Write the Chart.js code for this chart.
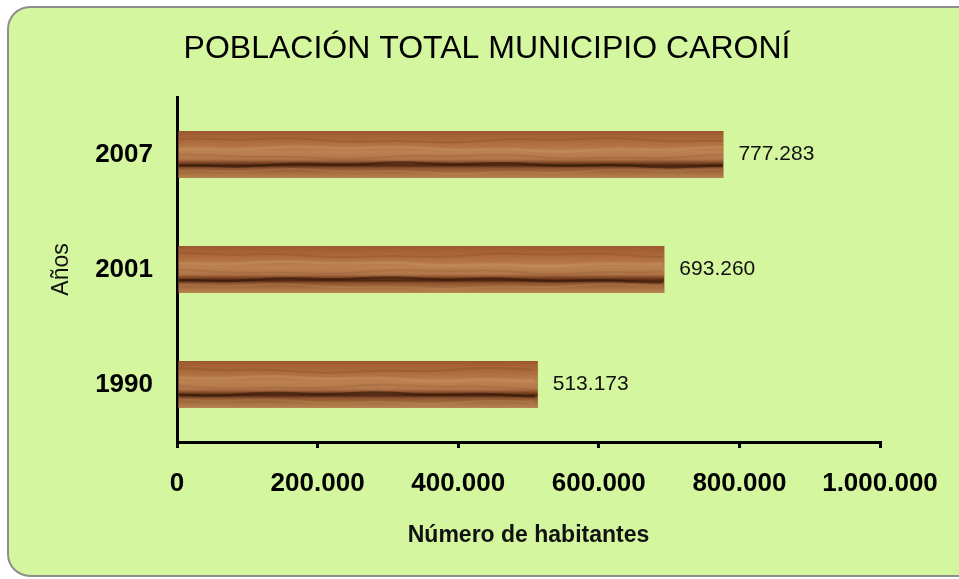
<!DOCTYPE html>
<html>
<head>
<meta charset="utf-8">
<script src="https://cdn.jsdelivr.net/npm/chart.js@4.4.1/dist/chart.umd.min.js"></script>
<style>
  html, body { margin: 0; padding: 0; background: #fff; }
  #wrap { width: 959px; height: 579px; }
</style>
</head>
<body>
<div id="wrap"><canvas id="popChart"></canvas></div>
<script>
// data
const years = ["2007", "2001", "1990"];
const population = [777283, 693260, 513173];
const xTicks = [0, 200000, 400000, 600000, 800000, 1000000];

const chartTitle = "POBLACIÓN TOTAL MUNICIPIO CARONÍ";
const xTitle = "Número de habitantes";
const yTitle = "Años";

function fmtNum(v) {
    return String(v).replace(/\B(?=(\d{3})+(?!\d))/g, ".");
}

// green rounded panel + title
const panelPlugin = {
    id: "panel",
    beforeDraw(chart) {
        const ctx = chart.ctx;
        ctx.save();
        ctx.fillStyle = "#fff";
        ctx.fillRect(0, 0, chart.width, chart.height);
        ctx.beginPath();
        ctx.roundRect(8, 7, 985, 569, 22);
        ctx.fillStyle = "#d3f69f";
        ctx.fill();
        ctx.lineWidth = 2;
        ctx.strokeStyle = "#8d8d8d";
        ctx.stroke();

        ctx.fillStyle = "#000";
        ctx.font = "32px 'Liberation Sans', Arial, sans-serif";
        ctx.textAlign = "center";
        ctx.textBaseline = "alphabetic";
        ctx.fillText(chartTitle, 487, 58);
        ctx.restore();
    }
};

// wood look on the bars + value labels
const woodPlugin = {
    id: "wood",
    afterDatasetsDraw(chart) {
        const ctx = chart.ctx;
        const meta = chart.getDatasetMeta(0);
        meta.data.forEach((bar, i) => {
            const p = bar.getProps(["x", "y", "base", "height"], true);
            const left = Math.min(p.base, p.x), right = Math.max(p.base, p.x);
            const top = p.y - p.height / 2, h = p.height;

            ctx.save();
            ctx.beginPath();
            ctx.rect(left, top, right - left, h);
            ctx.clip();

            const g = ctx.createLinearGradient(0, top, 0, top + h);
            g.addColorStop(0, "#9a5530");
            g.addColorStop(0.08, "#a35f33");
            g.addColorStop(0.25, "#ae6d3d");
            g.addColorStop(0.45, "#bb8150");
            g.addColorStop(0.6, "#b2754a");
            g.addColorStop(0.68, "#7a4220");
            g.addColorStop(0.73, "#4f2611");
            g.addColorStop(0.79, "#8e5530");
            g.addColorStop(0.9, "#a87040");
            g.addColorStop(1, "#b58552");
            ctx.fillStyle = g;
            ctx.fillRect(left, top, right - left, h);

            // grain streaks
            const streaks = [
                {f: 0.2, c: "rgba(140,75,40,0.35)", w: 2, k: 53},
                {f: 0.38, c: "rgba(210,160,110,0.30)", w: 3, k: 71},
                {f: 0.55, c: "rgba(150,90,50,0.30)", w: 2, k: 43},
                {f: 0.72, c: "rgba(50,22,8,0.55)", w: 2.5, k: 89},
                {f: 0.86, c: "rgba(200,150,100,0.25)", w: 2, k: 61}
            ];
            streaks.forEach(s => {
                ctx.beginPath();
                for (let x = left; x <= right; x += 4) {
                    const yy = top + s.f * h + 1.6 * Math.sin((x + i * 37) / s.k) + 0.8 * Math.sin((x + i * 11) / 17);
                    if (x === left) ctx.moveTo(x, yy); else ctx.lineTo(x, yy);
                }
                ctx.strokeStyle = s.c;
                ctx.lineWidth = s.w;
                ctx.stroke();
            });
            ctx.restore();

            ctx.save();
            ctx.fillStyle = "#111";
            ctx.font = "21px 'Liberation Sans', Arial, sans-serif";
            ctx.textAlign = "left";
            ctx.textBaseline = "middle";
            ctx.fillText(fmtNum(population[i]), right + 15, p.y);
            ctx.restore();
        });
    }
};

const setupBlock = {
    labels: years,
    datasets: [{
        data: population,
        backgroundColor: "#a86a3a",
        borderWidth: 0,
        barPercentage: 0.41,
        categoryPercentage: 1.0
    }]
};

const configBlock = {
    type: "bar",
    data: setupBlock,
    options: {
        indexAxis: "y",
        responsive: true,
        maintainAspectRatio: false,
        animation: false,
        layout: {
            padding: { left: 0, right: 79, top: 97, bottom: 0 }
        },
        plugins: {
            legend: { display: false },
            title: { display: false },
            tooltip: { enabled: false }
        },
        scales: {
            x: {
                min: 0,
                max: 1000000,
                afterBuildTicks(scale) {
                    scale.ticks = xTicks.map(v => ({ value: v }));
                },
                afterFit(scale) { scale.height = 137; },
                grid: {
                    drawOnChartArea: false,
                    drawTicks: true,
                    tickLength: 6,
                    color: "#000",
                    lineWidth: 3
                },
                border: { display: true, color: "#000", width: 3 },
                ticks: {
                    padding: 20,
                    color: "#000",
                    maxRotation: 0,
                    font: { family: "'Liberation Sans', Arial, sans-serif", size: 26, weight: "bold" },
                    callback: v => fmtNum(v)
                },
                title: {
                    display: true,
                    text: xTitle,
                    color: "#111",
                    padding: { top: 0, bottom: 30 },
                    font: { family: "'Liberation Sans', Arial, sans-serif", size: 23, weight: "bold" }
                }
            },
            y: {
                afterFit(scale) { scale.width = 177; },
                grid: { display: true, drawOnChartArea: false, drawTicks: false },
                border: { display: true, color: "#000", width: 3 },
                ticks: {
                    padding: 24,
                    color: "#000",
                    font: { family: "'Liberation Sans', Arial, sans-serif", size: 26, weight: "bold" }
                },
                title: {
                    display: true,
                    text: yTitle,
                    color: "#111",
                    padding: { top: 48, bottom: 0 },
                    font: { family: "'Liberation Sans', Arial, sans-serif", size: 23 }
                }
            }
        }
    },
    plugins: [panelPlugin, woodPlugin]
};

const popChart = new Chart(document.getElementById("popChart").getContext("2d"), configBlock);
</script>
</body>
</html>
